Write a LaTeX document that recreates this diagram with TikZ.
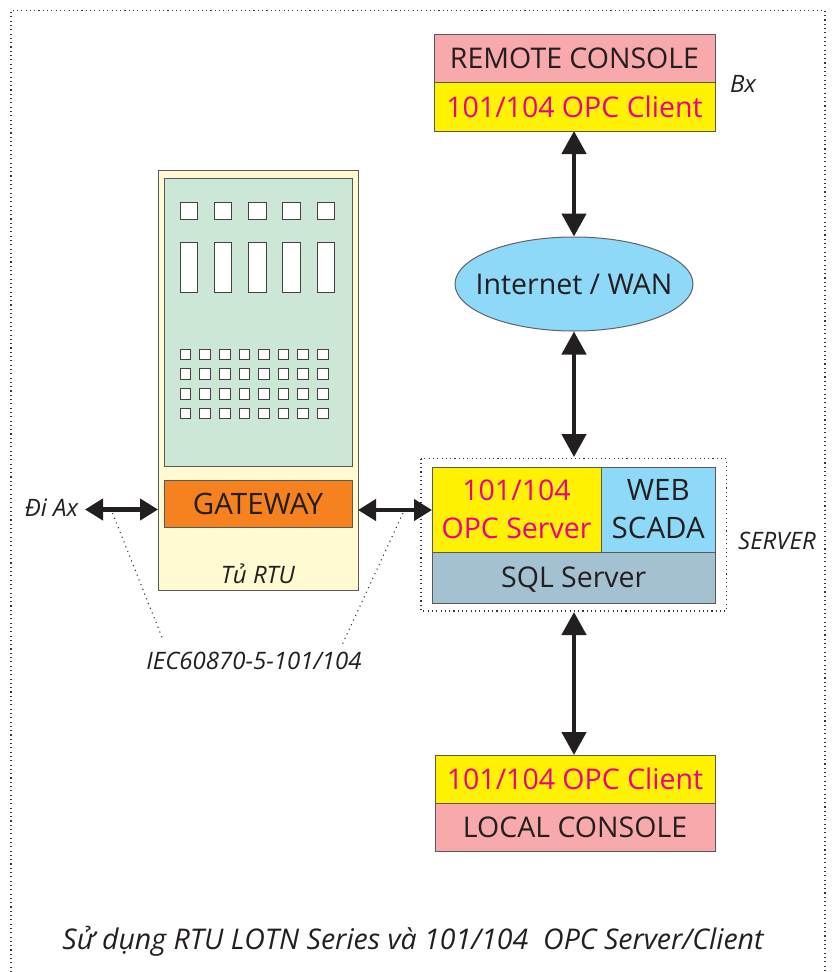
\documentclass[tikz,border=0pt]{standalone}
\usepackage{fontspec}
\setmainfont{Open Sans}
\usetikzlibrary{arrows.meta,shapes.geometric}
\definecolor{cabinet}{HTML}{FFFAD2}
\definecolor{panel}{HTML}{CDE7D6}
\definecolor{gate}{HTML}{F6821F}
\definecolor{pinkb}{HTML}{F8A9AC}
\definecolor{yel}{HTML}{FFF200}
\definecolor{mag}{HTML}{EC008C}
\definecolor{sky}{HTML}{8ED8F8}
\definecolor{sqlb}{HTML}{A4C1D2}
\definecolor{ink}{HTML}{231F20}
\tikzset{
 x=1pt,y=-1pt,
 box/.style={draw=ink!75,line width=1pt,inner sep=0pt,outer sep=0pt,anchor=north west,text=ink},
 slot/.style={draw=ink!85,fill=white,line width=0.9pt},
 dots/.style={draw=ink!90,line width=1.1pt,dash pattern=on 1.1pt off 3.2pt},
 sparsedots/.style={draw=ink!90,line width=1.1pt,dash pattern=on 1.1pt off 4pt},
 vlink/.style={draw=ink,line width=4.6pt,{Triangle[length=23pt,width=24pt]}-{Triangle[length=23pt,width=24pt]}},
 hlink/.style={draw=ink,line width=4.2pt,{Triangle[length=18pt,width=21pt]}-{Triangle[length=18pt,width=21pt]}},
 big/.style={font=\fontsize{28.5}{38}\selectfont},
 note/.style={font=\fontsize{24}{28}\itshape\selectfont,text=ink,inner sep=0pt},
 magt/.style={text=mag}
}
\begin{document}
\begin{tikzpicture}
\useasboundingbox (0,0) rectangle (834,972);
\draw[dots] (11,972) -- (11,10.5) -- (825,10.5) -- (825,972);
% cabinet
\node[box,fill=cabinet,minimum width=200pt,minimum height=420pt] (cab) at (158,170.5) {};
\node[box,fill=panel,minimum width=188pt,minimum height=288pt] (pan) at (164,178) {};
\foreach \i in {0,...,4}{
 \draw[slot] (180.3+34.2*\i,202) rectangle ++(17.3,17.3);
 \draw[slot] (180.3+34.2*\i,242.4) rectangle ++(17.3,50);
}
\foreach \x in {0,...,7}\foreach \y in {0,...,3}{
 \draw[slot] (180.3+19.6*\x,349.3+19.6*\y) rectangle ++(10.5,10.5);
}
\node[box,fill=gate,minimum width=188pt,minimum height=47pt,font=\fontsize{29.5}{38}\selectfont] (gw) at (164,480) {GATEWAY};
\node[note] (tu) at (258,574) {Tủ RTU};
% remote
\node[box,fill=pinkb,minimum width=281pt,minimum height=48.5pt,big] (rc) at (434,34) {REMOTE CONSOLE};
\node[box,fill=yel,minimum width=281pt,minimum height=48.5pt,big,magt] (rco) at (434,82.5) {101/104 OPC Client};
\node[note] (bx) at (743,84) {Bx};
% wan
\node[draw=ink!70,line width=1pt,fill=sky,ellipse,minimum width=238pt,minimum height=94pt,inner xsep=-20pt,inner ysep=0pt,big,text=ink] (wan) at (574,284) {Internet / WAN};
% server
\draw[dots] (421,458.5) rectangle (726.5,611);
\coordinate (srvN) at (574,457);
\coordinate (srvS) at (574,612);
\node[box,fill=yel,minimum width=169pt,minimum height=85pt,big,magt,align=center] (opc) at (432,467) {101/104\\OPC Server};
\node[box,fill=sky,minimum width=114.5pt,minimum height=85pt,font=\fontsize{29.5}{38}\selectfont,align=center] (web) at (601,467) {WEB\\SCADA};
\node[box,fill=sqlb,minimum width=283.5pt,minimum height=51pt,big,text height=24pt,text depth=5pt] (sql) at (432,552) {SQL Server};
\node[note] (srvl) at (777,541) {SERVER};
% local
\node[box,fill=yel,minimum width=280pt,minimum height=48pt,big,magt] (lco) at (435,755) {101/104 OPC Client};
\node[box,fill=pinkb,minimum width=280pt,minimum height=48pt,big] (lc) at (435,803) {LOCAL CONSOLE};
% links
\draw[vlink] (rco.south -| wan.north) -- (wan.north);
\draw[vlink] (wan.south) -- (srvN);
\draw[vlink] (srvS) -- (lco.north -| srvS);
\coordinate (ax) at (85,509.5);
\coordinate (cabL) at (158,509.5);
\draw[hlink] (ax) -- (cabL);
\coordinate (cabR) at (358,510);
\coordinate (opcL) at (432,510);
\draw[hlink] (cabR) -- (opcL);
% labels
\node[note] (di) at (51.5,508) {Đi Ax};
\node[note] (iec) at (254,661) {IEC60870-5-101/104};
\coordinate (d1) at (112.5,513);
\coordinate (d2) at (163,640);
\coordinate (d3) at (403,513);
\coordinate (d4) at (342,645);
\draw[sparsedots] (d1) -- (d2);
\draw[sparsedots] (d3) -- (d4);
\node[note,font=\fontsize{28.5}{32}\itshape\selectfont] (cap) at (413,941) {Sử dụng RTU LOTN Series và 101/104\ \ OPC Server/Client};
\end{tikzpicture}
\end{document}
